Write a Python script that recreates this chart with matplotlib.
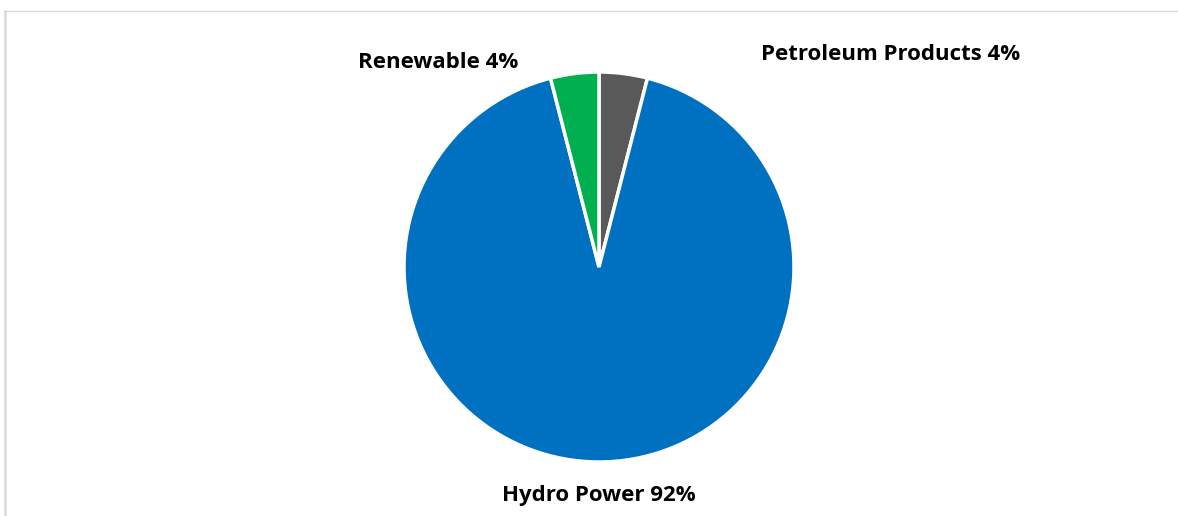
import matplotlib.pyplot as plt
from matplotlib.lines import Line2D

# energy mix shares, clockwise from 12 o'clock
sources = ['Petroleum Products', 'Hydro Power', 'Renewable']
shares = [4, 92, 4]
colors = ['#595959', '#0070C0', '#00B050']

W, H = 1178, 516
fig = plt.figure(figsize=(W / 100, H / 100), dpi=100)

# pie axes: centre (599, 267) px from top-left, radius 195 px
cx, cy, r = 599, 267, 195
ax = fig.add_axes([(cx - r) / W, (H - cy - r) / H, 2 * r / W, 2 * r / H])
ax.pie(shares, colors=colors, startangle=90, counterclock=False,
       wedgeprops=dict(edgecolor='white', linewidth=2.5))
ax.set_xlim(-1, 1)
ax.set_ylim(-1, 1)
ax.set_aspect('equal')

# labels placed around the pie
label_pos = {'Petroleum Products': (891, 55),
             'Hydro Power': (599, 495),
             'Renewable': (438, 62)}
for name, val in zip(sources, shares):
    x, y = label_pos[name]
    fig.text(x / W, 1 - y / H, f'{name} {val}%', ha='center', va='center',
             fontsize=16, fontweight='bold', family='Open Sans', color='black')

# light frame lines on top and left
fig.add_artist(Line2D([4 / W, 1], [1 - 11 / H, 1 - 11 / H], color='#D9D9D9', lw=1))
fig.add_artist(Line2D([5 / W, 5 / W], [0, 1 - 11 / H], color='#D9D9D9', lw=1.8))

fig.savefig('out.png', dpi=100)
